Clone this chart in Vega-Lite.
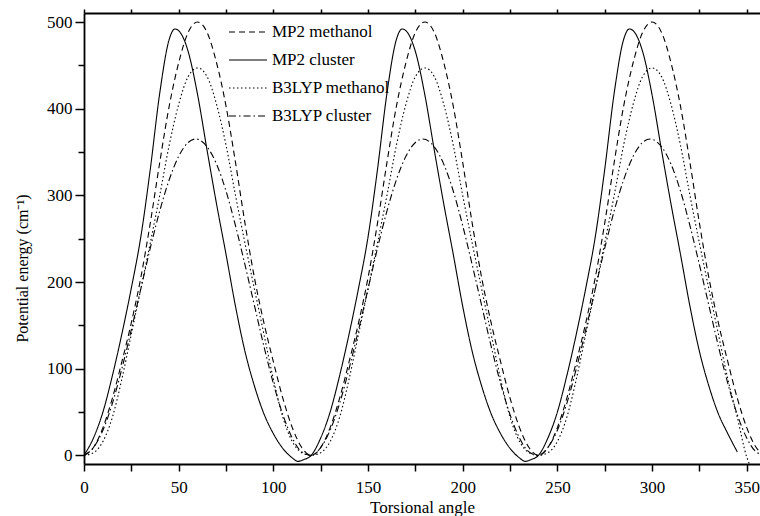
{
  "$schema": "https://vega.github.io/schema/vega-lite/v6.json",
  "width": 676,
  "height": 451,
  "autosize": {"type": "none"},
  "padding": {"left": 84, "top": 13, "right": 0, "bottom": 52},
  "background": "white",
  "config": {"view": {"stroke": null}, "font": "Liberation Serif"},
  "data": {"values": [
    {"s":"MP2 methanol","x":0,"y":0},{"s":"MP2 methanol","x":5,"y":9},{"s":"MP2 methanol","x":10,"y":32},{"s":"MP2 methanol","x":15,"y":66},{"s":"MP2 methanol","x":20,"y":108},{"s":"MP2 methanol","x":25,"y":153},{"s":"MP2 methanol","x":30,"y":205},{"s":"MP2 methanol","x":35,"y":268},{"s":"MP2 methanol","x":40,"y":338},{"s":"MP2 methanol","x":45,"y":403},{"s":"MP2 methanol","x":50,"y":453},{"s":"MP2 methanol","x":55,"y":488},{"s":"MP2 methanol","x":60,"y":500},{"s":"MP2 methanol","x":65,"y":488},{"s":"MP2 methanol","x":70,"y":453},{"s":"MP2 methanol","x":75,"y":403},{"s":"MP2 methanol","x":80,"y":338},{"s":"MP2 methanol","x":85,"y":268},{"s":"MP2 methanol","x":90,"y":205},{"s":"MP2 methanol","x":95,"y":153},{"s":"MP2 methanol","x":100,"y":108},{"s":"MP2 methanol","x":105,"y":66},{"s":"MP2 methanol","x":110,"y":32},{"s":"MP2 methanol","x":115,"y":9},
    {"s":"MP2 methanol","x":120,"y":0},{"s":"MP2 methanol","x":125,"y":9},{"s":"MP2 methanol","x":130,"y":32},{"s":"MP2 methanol","x":135,"y":66},{"s":"MP2 methanol","x":140,"y":108},{"s":"MP2 methanol","x":145,"y":153},{"s":"MP2 methanol","x":150,"y":205},{"s":"MP2 methanol","x":155,"y":268},{"s":"MP2 methanol","x":160,"y":338},{"s":"MP2 methanol","x":165,"y":403},{"s":"MP2 methanol","x":170,"y":453},{"s":"MP2 methanol","x":175,"y":488},{"s":"MP2 methanol","x":180,"y":500},{"s":"MP2 methanol","x":185,"y":488},{"s":"MP2 methanol","x":190,"y":453},{"s":"MP2 methanol","x":195,"y":403},{"s":"MP2 methanol","x":200,"y":338},{"s":"MP2 methanol","x":205,"y":268},{"s":"MP2 methanol","x":210,"y":205},{"s":"MP2 methanol","x":215,"y":153},{"s":"MP2 methanol","x":220,"y":108},{"s":"MP2 methanol","x":225,"y":66},{"s":"MP2 methanol","x":230,"y":32},{"s":"MP2 methanol","x":235,"y":9},
    {"s":"MP2 methanol","x":240,"y":0},{"s":"MP2 methanol","x":245,"y":9},{"s":"MP2 methanol","x":250,"y":32},{"s":"MP2 methanol","x":255,"y":66},{"s":"MP2 methanol","x":260,"y":108},{"s":"MP2 methanol","x":265,"y":153},{"s":"MP2 methanol","x":270,"y":205},{"s":"MP2 methanol","x":275,"y":268},{"s":"MP2 methanol","x":280,"y":338},{"s":"MP2 methanol","x":285,"y":403},{"s":"MP2 methanol","x":290,"y":453},{"s":"MP2 methanol","x":295,"y":488},{"s":"MP2 methanol","x":300,"y":500},{"s":"MP2 methanol","x":305,"y":488},{"s":"MP2 methanol","x":310,"y":453},{"s":"MP2 methanol","x":315,"y":403},{"s":"MP2 methanol","x":320,"y":338},{"s":"MP2 methanol","x":325,"y":268},{"s":"MP2 methanol","x":330,"y":205},{"s":"MP2 methanol","x":335,"y":153},{"s":"MP2 methanol","x":340,"y":108},{"s":"MP2 methanol","x":345,"y":66},{"s":"MP2 methanol","x":350,"y":32},{"s":"MP2 methanol","x":355,"y":9},{"s":"MP2 methanol","x":360,"y":0},

    {"s":"MP2 cluster","x":0,"y":0},{"s":"MP2 cluster","x":5,"y":20},{"s":"MP2 cluster","x":10,"y":50},{"s":"MP2 cluster","x":15,"y":92},{"s":"MP2 cluster","x":20,"y":140},{"s":"MP2 cluster","x":25,"y":193},{"s":"MP2 cluster","x":30,"y":252},{"s":"MP2 cluster","x":35,"y":330},{"s":"MP2 cluster","x":40,"y":418},{"s":"MP2 cluster","x":45,"y":480},{"s":"MP2 cluster","x":48,"y":492},{"s":"MP2 cluster","x":50,"y":490},{"s":"MP2 cluster","x":55,"y":466},{"s":"MP2 cluster","x":60,"y":416},{"s":"MP2 cluster","x":65,"y":352},{"s":"MP2 cluster","x":70,"y":290},{"s":"MP2 cluster","x":75,"y":232},{"s":"MP2 cluster","x":80,"y":172},{"s":"MP2 cluster","x":85,"y":120},{"s":"MP2 cluster","x":90,"y":80},{"s":"MP2 cluster","x":95,"y":48},{"s":"MP2 cluster","x":100,"y":25},{"s":"MP2 cluster","x":105,"y":8},{"s":"MP2 cluster","x":110,"y":-3},{"s":"MP2 cluster","x":113,"y":-7},{"s":"MP2 cluster","x":116,"y":-5},
    {"s":"MP2 cluster","x":120,"y":0},{"s":"MP2 cluster","x":125,"y":20},{"s":"MP2 cluster","x":130,"y":50},{"s":"MP2 cluster","x":135,"y":92},{"s":"MP2 cluster","x":140,"y":140},{"s":"MP2 cluster","x":145,"y":193},{"s":"MP2 cluster","x":150,"y":252},{"s":"MP2 cluster","x":155,"y":330},{"s":"MP2 cluster","x":160,"y":418},{"s":"MP2 cluster","x":165,"y":480},{"s":"MP2 cluster","x":168,"y":492},{"s":"MP2 cluster","x":170,"y":490},{"s":"MP2 cluster","x":175,"y":466},{"s":"MP2 cluster","x":180,"y":416},{"s":"MP2 cluster","x":185,"y":352},{"s":"MP2 cluster","x":190,"y":290},{"s":"MP2 cluster","x":195,"y":232},{"s":"MP2 cluster","x":200,"y":172},{"s":"MP2 cluster","x":205,"y":120},{"s":"MP2 cluster","x":210,"y":80},{"s":"MP2 cluster","x":215,"y":48},{"s":"MP2 cluster","x":220,"y":25},{"s":"MP2 cluster","x":225,"y":8},{"s":"MP2 cluster","x":230,"y":-3},{"s":"MP2 cluster","x":233,"y":-7},{"s":"MP2 cluster","x":236,"y":-5},
    {"s":"MP2 cluster","x":240,"y":0},{"s":"MP2 cluster","x":245,"y":20},{"s":"MP2 cluster","x":250,"y":50},{"s":"MP2 cluster","x":255,"y":92},{"s":"MP2 cluster","x":260,"y":140},{"s":"MP2 cluster","x":265,"y":193},{"s":"MP2 cluster","x":270,"y":252},{"s":"MP2 cluster","x":275,"y":330},{"s":"MP2 cluster","x":280,"y":418},{"s":"MP2 cluster","x":285,"y":480},{"s":"MP2 cluster","x":288,"y":492},{"s":"MP2 cluster","x":290,"y":490},{"s":"MP2 cluster","x":295,"y":466},{"s":"MP2 cluster","x":300,"y":416},{"s":"MP2 cluster","x":305,"y":352},{"s":"MP2 cluster","x":310,"y":290},{"s":"MP2 cluster","x":315,"y":232},{"s":"MP2 cluster","x":320,"y":172},{"s":"MP2 cluster","x":325,"y":120},{"s":"MP2 cluster","x":330,"y":80},{"s":"MP2 cluster","x":335,"y":48},{"s":"MP2 cluster","x":340,"y":25},{"s":"MP2 cluster","x":345,"y":4},

    {"s":"B3LYP methanol","x":0,"y":0},{"s":"B3LYP methanol","x":5,"y":3},{"s":"B3LYP methanol","x":10,"y":16},{"s":"B3LYP methanol","x":15,"y":44},{"s":"B3LYP methanol","x":20,"y":88},{"s":"B3LYP methanol","x":25,"y":140},{"s":"B3LYP methanol","x":30,"y":192},{"s":"B3LYP methanol","x":35,"y":245},{"s":"B3LYP methanol","x":40,"y":300},{"s":"B3LYP methanol","x":45,"y":358},{"s":"B3LYP methanol","x":50,"y":405},{"s":"B3LYP methanol","x":55,"y":437},{"s":"B3LYP methanol","x":60,"y":447},{"s":"B3LYP methanol","x":65,"y":437},{"s":"B3LYP methanol","x":70,"y":405},{"s":"B3LYP methanol","x":75,"y":358},{"s":"B3LYP methanol","x":80,"y":300},{"s":"B3LYP methanol","x":85,"y":245},{"s":"B3LYP methanol","x":90,"y":192},{"s":"B3LYP methanol","x":95,"y":140},{"s":"B3LYP methanol","x":100,"y":88},{"s":"B3LYP methanol","x":105,"y":44},{"s":"B3LYP methanol","x":110,"y":16},{"s":"B3LYP methanol","x":115,"y":3},
    {"s":"B3LYP methanol","x":120,"y":0},{"s":"B3LYP methanol","x":125,"y":3},{"s":"B3LYP methanol","x":130,"y":16},{"s":"B3LYP methanol","x":135,"y":44},{"s":"B3LYP methanol","x":140,"y":88},{"s":"B3LYP methanol","x":145,"y":140},{"s":"B3LYP methanol","x":150,"y":192},{"s":"B3LYP methanol","x":155,"y":245},{"s":"B3LYP methanol","x":160,"y":300},{"s":"B3LYP methanol","x":165,"y":358},{"s":"B3LYP methanol","x":170,"y":405},{"s":"B3LYP methanol","x":175,"y":437},{"s":"B3LYP methanol","x":180,"y":447},{"s":"B3LYP methanol","x":185,"y":437},{"s":"B3LYP methanol","x":190,"y":405},{"s":"B3LYP methanol","x":195,"y":358},{"s":"B3LYP methanol","x":200,"y":300},{"s":"B3LYP methanol","x":205,"y":245},{"s":"B3LYP methanol","x":210,"y":192},{"s":"B3LYP methanol","x":215,"y":140},{"s":"B3LYP methanol","x":220,"y":88},{"s":"B3LYP methanol","x":225,"y":44},{"s":"B3LYP methanol","x":230,"y":16},{"s":"B3LYP methanol","x":235,"y":3},
    {"s":"B3LYP methanol","x":240,"y":0},{"s":"B3LYP methanol","x":245,"y":3},{"s":"B3LYP methanol","x":250,"y":16},{"s":"B3LYP methanol","x":255,"y":44},{"s":"B3LYP methanol","x":260,"y":88},{"s":"B3LYP methanol","x":265,"y":140},{"s":"B3LYP methanol","x":270,"y":192},{"s":"B3LYP methanol","x":275,"y":245},{"s":"B3LYP methanol","x":280,"y":300},{"s":"B3LYP methanol","x":285,"y":358},{"s":"B3LYP methanol","x":290,"y":405},{"s":"B3LYP methanol","x":295,"y":437},{"s":"B3LYP methanol","x":300,"y":447},{"s":"B3LYP methanol","x":305,"y":437},{"s":"B3LYP methanol","x":310,"y":405},{"s":"B3LYP methanol","x":315,"y":358},{"s":"B3LYP methanol","x":320,"y":300},{"s":"B3LYP methanol","x":325,"y":245},{"s":"B3LYP methanol","x":330,"y":192},{"s":"B3LYP methanol","x":335,"y":140},{"s":"B3LYP methanol","x":340,"y":88},{"s":"B3LYP methanol","x":345,"y":44},{"s":"B3LYP methanol","x":350,"y":-2},{"s":"B3LYP methanol","x":354,"y":-20},

    {"s":"B3LYP cluster","x":0,"y":0},{"s":"B3LYP cluster","x":5,"y":9},{"s":"B3LYP cluster","x":10,"y":29},{"s":"B3LYP cluster","x":15,"y":60},{"s":"B3LYP cluster","x":20,"y":100},{"s":"B3LYP cluster","x":25,"y":145},{"s":"B3LYP cluster","x":30,"y":192},{"s":"B3LYP cluster","x":35,"y":239},{"s":"B3LYP cluster","x":40,"y":282},{"s":"B3LYP cluster","x":45,"y":318},{"s":"B3LYP cluster","x":50,"y":345},{"s":"B3LYP cluster","x":55,"y":361},{"s":"B3LYP cluster","x":59,"y":365},{"s":"B3LYP cluster","x":65,"y":356},{"s":"B3LYP cluster","x":70,"y":336},{"s":"B3LYP cluster","x":75,"y":305},{"s":"B3LYP cluster","x":80,"y":265},{"s":"B3LYP cluster","x":85,"y":220},{"s":"B3LYP cluster","x":90,"y":173},{"s":"B3LYP cluster","x":95,"y":126},{"s":"B3LYP cluster","x":100,"y":83},{"s":"B3LYP cluster","x":105,"y":47},{"s":"B3LYP cluster","x":110,"y":20},{"s":"B3LYP cluster","x":115,"y":4},
    {"s":"B3LYP cluster","x":120,"y":0},{"s":"B3LYP cluster","x":125,"y":9},{"s":"B3LYP cluster","x":130,"y":29},{"s":"B3LYP cluster","x":135,"y":60},{"s":"B3LYP cluster","x":140,"y":100},{"s":"B3LYP cluster","x":145,"y":145},{"s":"B3LYP cluster","x":150,"y":192},{"s":"B3LYP cluster","x":155,"y":239},{"s":"B3LYP cluster","x":160,"y":282},{"s":"B3LYP cluster","x":165,"y":318},{"s":"B3LYP cluster","x":170,"y":345},{"s":"B3LYP cluster","x":175,"y":361},{"s":"B3LYP cluster","x":179,"y":365},{"s":"B3LYP cluster","x":185,"y":356},{"s":"B3LYP cluster","x":190,"y":336},{"s":"B3LYP cluster","x":195,"y":305},{"s":"B3LYP cluster","x":200,"y":265},{"s":"B3LYP cluster","x":205,"y":220},{"s":"B3LYP cluster","x":210,"y":173},{"s":"B3LYP cluster","x":215,"y":126},{"s":"B3LYP cluster","x":220,"y":83},{"s":"B3LYP cluster","x":225,"y":47},{"s":"B3LYP cluster","x":230,"y":20},{"s":"B3LYP cluster","x":235,"y":4},
    {"s":"B3LYP cluster","x":240,"y":0},{"s":"B3LYP cluster","x":245,"y":9},{"s":"B3LYP cluster","x":250,"y":29},{"s":"B3LYP cluster","x":255,"y":60},{"s":"B3LYP cluster","x":260,"y":100},{"s":"B3LYP cluster","x":265,"y":145},{"s":"B3LYP cluster","x":270,"y":192},{"s":"B3LYP cluster","x":275,"y":239},{"s":"B3LYP cluster","x":280,"y":282},{"s":"B3LYP cluster","x":285,"y":318},{"s":"B3LYP cluster","x":290,"y":345},{"s":"B3LYP cluster","x":295,"y":361},{"s":"B3LYP cluster","x":299,"y":365},{"s":"B3LYP cluster","x":305,"y":356},{"s":"B3LYP cluster","x":310,"y":336},{"s":"B3LYP cluster","x":315,"y":305},{"s":"B3LYP cluster","x":320,"y":265},{"s":"B3LYP cluster","x":325,"y":220},{"s":"B3LYP cluster","x":330,"y":173},{"s":"B3LYP cluster","x":335,"y":126},{"s":"B3LYP cluster","x":340,"y":83},{"s":"B3LYP cluster","x":345,"y":47},{"s":"B3LYP cluster","x":350,"y":20},{"s":"B3LYP cluster","x":355,"y":4},{"s":"B3LYP cluster","x":360,"y":0}
  ]},
  "layer": [
    {
      "mark": {"type": "line", "color": "black", "strokeWidth": 1.1, "interpolate": "monotone", "clip": true},
      "encoding": {
        "x": {"field": "x", "type": "quantitative",
          "scale": {"domain": [0, 357], "nice": false, "zero": false},
          "axis": {"orient": "bottom", "values": [0,25,50,75,100,125,150,175,200,225,250,275,300,325,350],
            "labelExpr": "datum.value % 50 === 0 ? datum.label : ''",
            "tickSize": 7, "tickWidth": 1.5, "tickColor": "black",
            "domainColor": "black", "domainWidth": 1.8,
            "labelFontSize": 17, "labelColor": "black", "labelBaseline": "alphabetic", "labelPadding": 21,
            "labelFlush": false, "labelOverlap": false, "grid": false,
            "title": "Torsional angle", "titleFontSize": 17, "titleFontWeight": "normal", "titleColor": "black",
            "titleBaseline": "alphabetic", "titleY": 48}},
        "y": {"field": "y", "type": "quantitative",
          "scale": {"domain": [-10, 510.4], "nice": false, "zero": false},
          "axis": {"values": [0,50,100,150,200,250,300,350,400,450,500],
            "labelExpr": "datum.value % 100 === 0 ? datum.label : ''",
            "tickSize": {"condition": {"test": "datum.value % 100 === 0", "value": 9}, "value": 6},
            "tickWidth": 1.5, "tickColor": "black",
            "domainColor": "black", "domainWidth": 1.8,
            "labelFontSize": 17, "labelColor": "black", "labelPadding": 3, "labelOverlap": false, "grid": false,
            "title": "Potential energy (cm⁻¹)", "titleFontSize": 16, "titleFontWeight": "normal", "titleColor": "black",
            "titleAngle": -90, "titleBaseline": "alphabetic", "titleAlign": "center", "titleX": -57, "titleY": 255}},
        "strokeDash": {"field": "s", "type": "nominal",
          "scale": {"domain": ["MP2 methanol", "MP2 cluster", "B3LYP methanol", "B3LYP cluster"],
                    "range": [[6, 4], [1, 0], [1.5, 2.5], [7, 3, 1.5, 3]]},
          "legend": {"orient": "none", "legendX": 144, "legendY": -1, "title": null, "padding": 0,
            "symbolType": "stroke", "symbolSize": 1444, "symbolStrokeWidth": 1.1, "symbolStrokeColor": "black",
            "labelFontSize": 17, "labelColor": "black", "labelOffset": 4, "rowPadding": -13}}
      }
    },
    {
      "mark": {"type": "rule", "opacity": 0},
      "encoding": {
        "x": {"field": "x", "type": "quantitative",
          "scale": {"domain": [0, 357], "nice": false, "zero": false},
          "axis": {"orient": "top", "values": [0,25,50,75,100,125,150,175,200,225,250,275,300,325,350],
            "labels": false, "tickSize": 4, "tickWidth": 1.5, "tickColor": "black",
            "domainColor": "black", "domainWidth": 1.8, "grid": false, "title": null}}
      }
    }
  ],
  "resolve": {"axis": {"x": "independent"}}
}
